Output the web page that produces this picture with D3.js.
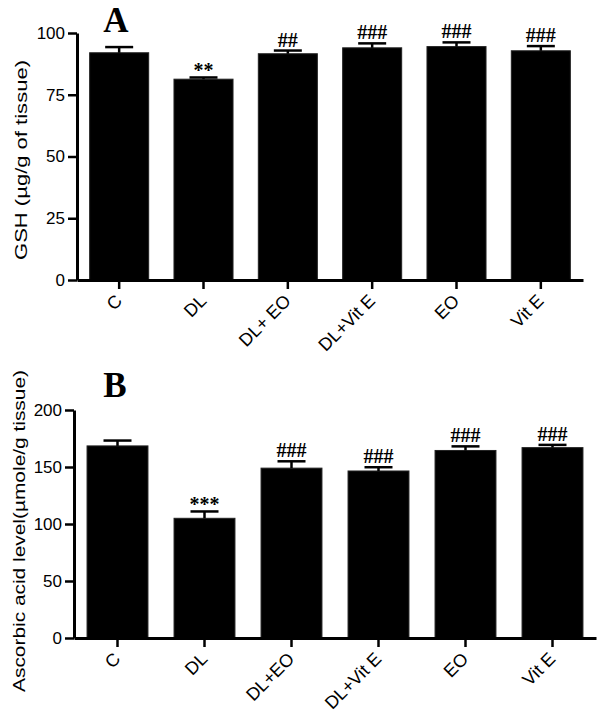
<!DOCTYPE html>
<html>
<head>
<meta charset="utf-8">
<script src="https://cdn.jsdelivr.net/npm/d3@7"></script>
<style>
  html, body { margin: 0; padding: 0; background: #fff; }
  svg { display: block; }
</style>
</head>
<body>
<svg id="chart" width="600" height="714"></svg>
<script>
// ---- Data ----
const categoriesA = ["C", "DL", "DL+ EO", "DL+Vit E", "EO", "Vit E"];
const gshMean = [92, 81.3, 91.6, 94, 94.5, 92.8];
const gshErr = [2.3, 0.7, 1.3, 1.8, 1.7, 1.9];
const gshSig = ["", "**", "##", "###", "###", "###"];
const ticksA = [0, 25, 50, 75, 100];

const categoriesB = ["C", "DL", "DL+EO", "DL+Vit E", "EO", "Vit E"];
const ascMean = [168.5, 105, 149, 146.5, 164.5, 167];
const ascErr = [4.7, 6, 6, 3.3, 3.6, 2.4];
const ascSig = ["", "***", "###", "###", "###", "###"];
const ticksB = [0, 50, 100, 150, 200];

const svg = d3.select("#chart");
const sans = "'Liberation Sans', Arial, sans-serif";
const serif = "'Liberation Serif', 'Times New Roman', serif";

function drawPanel(p) {
  const g = svg.append("g");
  const data = p.cats.map((c, i) => ({ cat: c, v: p.mean[i], e: p.err[i], s: p.sig[i] }));
  const x = d3.scaleBand().domain(p.cats).range([p.x0, p.x1]).paddingInner(0.3).paddingOuter(0.15);
  const y = d3.scaleLinear().domain([0, p.ymax]).range([p.y0, p.y1]);

  // bars
  g.selectAll("rect.bar").data(data).enter().append("rect")
    .attr("class", "bar")
    .attr("x", d => x(d.cat))
    .attr("y", d => y(d.v))
    .attr("width", x.bandwidth())
    .attr("height", d => y(0) - y(d.v))
    .attr("fill", "#000")
    .attr("stroke", "#222")
    .attr("stroke-width", 1);

  // error bars (upper only)
  const cx = d => x(d.cat) + x.bandwidth() / 2;
  g.selectAll("line.err").data(data).enter().append("line")
    .attr("x1", cx).attr("x2", cx)
    .attr("y1", d => y(d.v)).attr("y2", d => y(d.v + d.e))
    .attr("stroke", "#000").attr("stroke-width", 2.5);
  g.selectAll("line.cap").data(data).enter().append("line")
    .attr("x1", d => cx(d) - 14).attr("x2", d => cx(d) + 14)
    .attr("y1", d => y(d.v + d.e)).attr("y2", d => y(d.v + d.e))
    .attr("stroke", "#000").attr("stroke-width", 2.5);

  // significance marks
  g.selectAll("text.sig").data(data.filter(d => d.s)).enter().append("text")
    .attr("x", cx)
    .attr("y", d => y(d.v + d.e) - (d.s[0] === "*" ? 0 : 4))
    .attr("text-anchor", "middle")
    .attr("font-family", serif)
    .attr("font-weight", "bold")
    .attr("font-size", 20)
    .text(d => d.s);

  // y axis
  const yAxis = d3.axisLeft(y).tickValues(p.ticks).tickSize(9).tickPadding(3).tickSizeOuter(0);
  const ya = g.append("g").attr("transform", `translate(${p.x0},0)`).call(yAxis);
  ya.select(".domain").attr("stroke", "#000").attr("stroke-width", 3);
  ya.selectAll(".tick line").attr("stroke", "#000").attr("stroke-width", 2.5);
  ya.selectAll(".tick text").attr("font-family", sans).attr("font-size", 17).attr("fill", "#000");

  // x axis
  const xAxis = d3.axisBottom(x).tickSize(9).tickSizeOuter(0);
  const xa = g.append("g").attr("transform", `translate(0,${p.y0})`).call(xAxis);
  xa.select(".domain").attr("stroke", "#000").attr("stroke-width", 3);
  xa.selectAll(".tick line").attr("stroke", "#000").attr("stroke-width", 2.5);
  xa.selectAll(".tick text")
    .attr("font-family", sans).attr("font-size", 18).attr("fill", "#000")
    .attr("text-anchor", "end")
    .attr("x", 0).attr("y", 0).attr("dy", 0)
    .attr("transform", "translate(4,22) rotate(-45)");

  // y label
  g.append("text")
    .attr("transform", `translate(${p.labX},${p.labY}) rotate(-90)`)
    .attr("text-anchor", "middle")
    .attr("font-family", sans).attr("font-size", 17)
    .attr("textLength", p.labLen).attr("lengthAdjust", "spacingAndGlyphs")
    .text(p.label);

  // panel letter
  g.append("text")
    .attr("x", p.titleX).attr("y", p.titleY)
    .attr("text-anchor", "middle")
    .attr("font-family", serif).attr("font-weight", "bold").attr("font-size", 35)
    .text(p.title);
}

drawPanel({
  cats: categoriesA, mean: gshMean, err: gshErr, sig: gshSig, ticks: ticksA, ymax: 100,
  x0: 77, x1: 583, y0: 280, y1: 33,
  label: "GSH (\u00b5g/g of tissue)", labX: 27, labY: 160, labLen: 200,
  title: "A", titleX: 116, titleY: 31.5
});

drawPanel({
  cats: categoriesB, mean: ascMean, err: ascErr, sig: ascSig, ticks: ticksB, ymax: 200,
  x0: 74, x1: 596, y0: 638, y1: 410,
  label: "Ascorbic acid level(\u00b5mole/g tissue)", labX: 25, labY: 531, labLen: 322,
  title: "B", titleX: 115, titleY: 397
});
</script>
</body>
</html>
